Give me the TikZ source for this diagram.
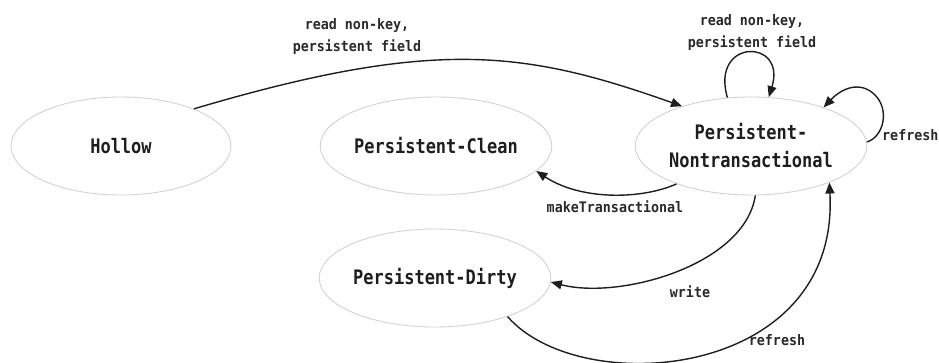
\documentclass[tikz,border=0pt]{standalone}
\usepackage{fontspec}
\setmonofont{DejaVu Sans Mono}
\newfontfamily\statefont[FakeStretch=0.85]{DejaVu Sans Mono Bold}
\newfontfamily\labelfont[FakeStretch=0.92]{DejaVu Sans Mono Bold}
\usetikzlibrary{shapes.geometric,arrows.meta}
\definecolor{rim}{HTML}{D2D2D2}
\definecolor{ink}{HTML}{1E1E1E}
\definecolor{labelink}{HTML}{2A2A2A}
\tikzset{
  state/.style={ellipse, draw=rim, line width=0.9pt, inner sep=0pt,
    minimum width=220pt, minimum height=98pt, text=ink,
    font=\statefont\fontsize{20}{28}\selectfont, align=center},
  trans/.style={draw=ink, line width=1.4pt,
    -{Triangle[length=11pt,width=9pt]}},
  lbl/.style={text=labelink, inner sep=0pt, align=center,
    font=\labelfont\fontsize{14.5}{22}\selectfont}
}
\begin{document}
\begin{tikzpicture}[x=1pt,y=-1pt]
  \useasboundingbox (0,0) rectangle (939,362);

  % states
  \node[state] (hollow) at (121,146) {Hollow};
  \node[state] (clean)  at (436,146) {Persistent-Clean};
  \node[state, minimum width=217pt] (nontx) at (751,146) {Persistent-\\Nontransactional};
  \node[state] (dirty)  at (435,278) {Persistent-Dirty};

  % transitions
  \draw[trans] (hollow.27) .. controls (436,37) and (526,51) .. (nontx.150);
  \draw[trans] (nontx.116) .. controls (710,38) and (787,38) .. (nontx.70);
  \coordinate (loopmid) at (875,95);
  \draw[trans] (nontx.2) .. controls (883.5,137) and (890,110) .. (loopmid)
                         .. controls (860.5,80.5) and (842,88) .. (nontx.28);
  \draw[trans] (nontx.207) .. controls (640,200) and (580,200) .. (clean.-14);
  \draw[trans] (nontx.275) .. controls (745,265) and (620,300) .. (dirty.-2);
  \draw[trans] (dirty.-28) .. controls (580,400) and (840,380) .. (nontx.-25);

  % transition labels
  \node[lbl] (l1) at (357,36) {read non-key,\\persistent field};
  \node[lbl] (l2) at (752,32) {read non-key,\\persistent field};
  \node[lbl, anchor=west] (l3) at (882,135) {refresh};
  \node[lbl] (l4) at (615,207) {makeTransactional};
  \node[lbl] (l5) at (690,292) {write};
  \node[lbl] (l6) at (777,340) {refresh};
\end{tikzpicture}
\end{document}
